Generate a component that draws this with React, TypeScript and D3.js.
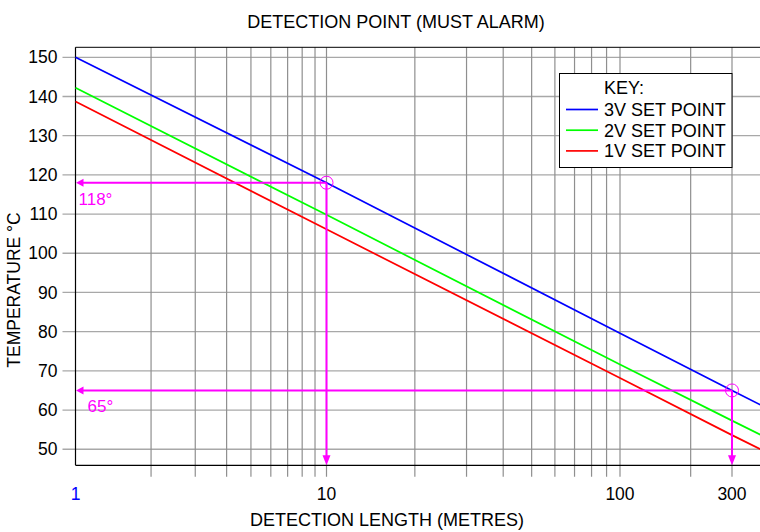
import * as d3 from "d3";

// detection length (m) at which each line is read
const lengths = [1, 10, 100, 300, 400];
const set3V = [150, 118, 79.6, 65, 61.2];
const set2V = [142.2, 109.8, 71.6, 57.3, 53.6];
const set1V = [138.7, 106.1, 68.2, 53.6, 49.9];

const seriesNames = ["3V SET POINT", "2V SET POINT", "1V SET POINT"];
const seriesColors = ["#0000ff", "#00ff00", "#ff0000"];

const yTicks = [50, 60, 70, 80, 90, 100, 110, 120, 130, 140, 150];
const xLabels = [1, 10, 100, 300];
const xGrid = [2, 3, 4, 5, 6, 7, 8, 9, 10, 20, 30, 40, 50, 60, 70, 80, 90, 100, 200, 300];

// marked readings
const markLengths = [10, 300];
const markTemps = [118, 65];
const markLabels = ["118°", "65°"];

const W = 760;
const H = 532;
const left = 75.5;
const top = 47.3;
const bottom = 465.3;
const font = "'Liberation Sans', Arial, sans-serif";
const MAG = "#ff00ff";

export default function App() {
  // the printed axis is not a clean log scale, so each labelled decade is pinned
  const x = d3.scaleLog().domain([1, 10, 100, 300]).range([left, 326.5, 620, 732]);
  const y = d3.scaleLinear().domain([45.9, 152.55]).range([bottom, top]);

  const series = [set3V, set2V, set1V];
  const line = d3
    .line<number>()
    .x((_, i) => x(lengths[i]))
    .y((d) => y(d));

  const labelDx = [3, 12];

  return (
    <svg width={W} height={H} style={{ display: "block", background: "#fff" }} fontFamily={font}>
      <style>{`body{margin:0}`}</style>

      {/* grid */}
      {yTicks.map((t) => (
        <line key={"y" + t} x1={62.5} x2={W} y1={y(t)} y2={y(t)} stroke="#a8a8a8" strokeWidth={1.3} />
      ))}
      {xGrid.map((v) => (
        <line key={"x" + v} x1={x(v)} x2={x(v)} y1={top} y2={bottom + 11.5} stroke="#8f8f8f" strokeWidth={1.2} />
      ))}

      {/* frame */}
      <line x1={left} x2={W} y1={top} y2={top} stroke="#000" strokeWidth={1} />
      <line x1={left} x2={left} y1={top} y2={bottom} stroke="#000" strokeWidth={1.2} />
      <line x1={left} x2={W} y1={bottom} y2={bottom} stroke="#000" strokeWidth={1.2} />

      {/* series */}
      {series.map((s, i) => (
        <path key={i} d={line(s) || ""} fill="none" stroke={seriesColors[i]} strokeWidth={1.7} />
      ))}

      {/* marked readings */}
      {markLengths.map((m, i) => {
        const cx = x(m);
        const cy = y(markTemps[i]);
        return (
          <g key={"m" + i}>
            <line x1={left + 6} x2={cx} y1={cy} y2={cy} stroke={MAG} strokeWidth={2} />
            <line x1={cx} x2={cx} y1={cy} y2={bottom - 8} stroke={MAG} strokeWidth={2} />
            <path
              d={`M${left + 0.5},${cy} L${left + 8},${cy - 4} L${left + 8},${cy + 4} Z`}
              fill={MAG}
            />
            <path
              d={`M${cx},${bottom} L${cx - 4},${bottom - 10} L${cx + 4},${bottom - 10} Z`}
              fill={MAG}
            />
            <circle cx={cx} cy={cy} r={6.5} fill="none" stroke={MAG} strokeWidth={1} />
            <text x={left + labelDx[i]} y={cy + 22} fontSize={17} fill={MAG}>
              {markLabels[i]}
            </text>
          </g>
        );
      })}

      {/* y tick labels */}
      {yTicks.map((t) => (
        <text key={"yl" + t} x={57.5} y={y(t) + 6.2} fontSize={17.5} textAnchor="end" fill="#000">
          {t}
        </text>
      ))}

      {/* x tick labels */}
      {xLabels.map((v, i) => (
        <text
          key={"xl" + v}
          x={x(v)}
          y={500}
          fontSize={17.5}
          textAnchor="middle"
          fill={i === 0 ? "#0000ff" : "#000"}
        >
          {v}
        </text>
      ))}

      {/* legend */}
      <rect x={559.5} y={73.5} width={172.5} height={94} fill="#fff" stroke="#000" strokeWidth={1} />
      <text x={604} y={94} fontSize={18} fill="#000">
        KEY:
      </text>
      {seriesNames.map((n, i) => (
        <g key={n}>
          <line x1={566} x2={598} y1={109.5 + i * 20.7} y2={109.5 + i * 20.7} stroke={seriesColors[i]} strokeWidth={1.7} />
          <text x={604} y={116 + i * 20.7} fontSize={18} fill="#000">
            {n}
          </text>
        </g>
      ))}

      {/* titles */}
      <text x={396} y={28} fontSize={18} textAnchor="middle" fill="#000">
        DETECTION POINT (MUST ALARM)
      </text>
      <text x={250} y={526} fontSize={18} fill="#000">
        DETECTION LENGTH (METRES)
      </text>
      <text transform="translate(19.5,290) rotate(-90)" fontSize={17.5} textAnchor="middle" fill="#000">
        TEMPERATURE °C
      </text>
    </svg>
  );
}
